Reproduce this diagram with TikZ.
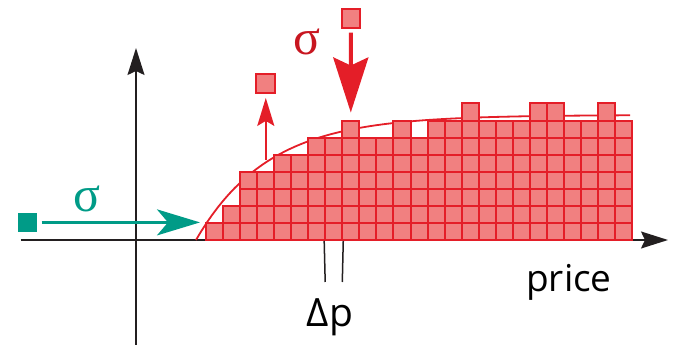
\documentclass[tikz,border=0pt]{standalone}
\usepackage{fontspec}
\usepackage{xcolor}
\usepackage{tikz}
\usetikzlibrary{arrows.meta, positioning}
\newfontfamily\labelfont{Open Sans}
\newfontfamily\sigmafont{Liberation Serif}
\definecolor{cellfill}{RGB}{241,128,128}
\definecolor{cellline}{RGB}{228,30,40}
\definecolor{sigred}{RGB}{200,22,32}
\definecolor{tealmark}{RGB}{0,155,135}
\definecolor{axisgray}{RGB}{35,31,32}

\begin{document}
\begin{tikzpicture}[
    x=1pt, y=-1pt,
    cell/.style={
        rectangle,
        draw=cellline,
        fill=cellfill,
        line width=2pt,
        inner sep=0pt,
        minimum size=17.07pt
    },
    marker/.style={cell, minimum size=19pt},
    tealmarker/.style={rectangle, fill=tealmark, inner sep=0pt, minimum size=19pt},
    axis/.style={draw=axisgray, line width=1.5pt, -{Stealth[length=27pt, width=17pt, inset=4pt]}},
    tick/.style={draw=axisgray, line width=1.5pt},
    curve/.style={draw=cellline, line width=1.8pt},
    tealarrow/.style={draw=tealmark, line width=2.6pt, -{Stealth[length=43pt, width=26pt, inset=11pt]}},
    thinarrow/.style={draw=cellline, line width=2pt, -{Stealth[length=28pt, width=17pt, inset=5pt]}},
    thickarrow/.style={draw=cellline, line width=4pt, -{Stealth[length=55pt, width=35pt, inset=8pt]}},
    textlabel/.style={font=\labelfont\fontsize{37}{40}\selectfont, text=black, inner sep=0pt, anchor=base},
    sigmalabel/.style={font=\sigmafont\fontsize{50}{54}\selectfont, inner sep=0pt, anchor=base}
]
\useasboundingbox (0,0) rectangle (673,347);

% axes
\coordinate (xstart) at (20.7,240);
\coordinate (xend) at (668,240);
\coordinate (ystart) at (136,345);
\coordinate (yend) at (136,48);
\draw[axis] (xstart) -- (xend);
\draw[axis] (ystart) -- (yend);

% fitted curve behind the histogram
\draw[curve] plot[domain=196:630, samples=80] (\x, {240-125*(1-exp(-(\x-196)/72))});

% histogram of cells
\foreach \h [count=\c from 0] in {1,2,4,4,5,5,6,6,7,6,6,7,6,7,7,8,7,7,7,8,8,7,7,8,7} {
    \foreach \r in {1,...,\h} {
        \node[cell] (c\c-\r) at ({205.7+(\c+0.5)*17.07}, {240-(\r-0.5)*17.07}) {};
    }
}

% price step
\coordinate (tickl) at (325.2,282);
\coordinate (tickr) at (342.3,282);
\draw[tick] (c7-1.south west) -- (tickl);
\draw[tick] (c7-1.south east) -- (tickr);
\node[textlabel, font=\labelfont\fontsize{39}{42}\selectfont] (dp) at (330,326.7) {Δp};
\node[textlabel] (price) at (569,291.7) {price};

% incoming teal order
\node[tealmarker] (tsq) at (27.8,222.4) {};
\coordinate (tend) at (200,222.4);
\draw[tealarrow, shorten <=4pt] (tsq) -- (tend);
\node[sigmalabel, text=tealmark] (tsig) at (86.7,211.7) {σ};

% red orders
\node[marker] (rsq) at (265.8,83.4) {};
\coordinate (rstart) at (265.8,160);
\draw[thinarrow, shorten >=4pt] (rstart) -- (rsq);
\node[cell, minimum size=18.5pt] (bsq) at (350.8,18.5) {};
\draw[thickarrow, shorten <=4pt, shorten >=7pt] (bsq) -- (c8-7);
\node[sigmalabel, text=sigred] (rsig) at (307.3,55) {σ};

\end{tikzpicture}
\end{document}
